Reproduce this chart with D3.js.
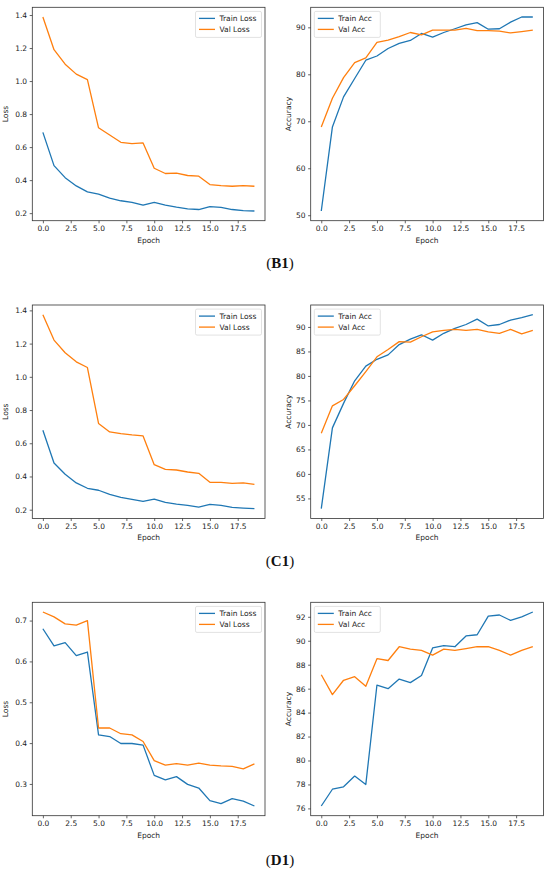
<!DOCTYPE html>
<html>
<head>
<meta charset="utf-8">
<script src="https://cdn.jsdelivr.net/npm/d3@7"></script>
<style>
  html, body { margin: 0; padding: 0; background: #fff; }
  svg { display: block; }
</style>
</head>
<body>
<script>
// Epochs 0..19
const epochs = d3.range(20);

// (B1)
const b1TrainLoss = [0.689, 0.488, 0.415, 0.365, 0.329, 0.315, 0.291, 0.275, 0.265, 0.248,
                     0.265, 0.248, 0.236, 0.226, 0.222, 0.240, 0.235, 0.222, 0.215, 0.213];
const b1ValLoss = [1.388, 1.190, 1.102, 1.042, 1.009, 0.717, 0.673, 0.629, 0.621, 0.625,
                   0.472, 0.440, 0.442, 0.428, 0.424, 0.373, 0.367, 0.363, 0.367, 0.363];
const b1TrainAcc = [50.9, 68.8, 75.2, 79.1, 83.0, 83.9, 85.5, 86.6, 87.2, 88.7,
                    87.9, 88.9, 89.7, 90.5, 91.0, 89.6, 89.7, 91.1, 92.2, 92.2];
const b1ValAcc = [68.8, 74.9, 79.3, 82.5, 83.5, 86.8, 87.3, 88.0, 88.9, 88.4,
                  89.4, 89.4, 89.4, 89.8, 89.3, 89.3, 89.2, 88.8, 89.1, 89.4];

// (C1)
const c1TrainLoss = [0.678, 0.481, 0.413, 0.361, 0.329, 0.317, 0.292, 0.274, 0.262, 0.250,
                     0.264, 0.244, 0.234, 0.226, 0.216, 0.232, 0.226, 0.214, 0.210, 0.206];
const c1ValLoss = [1.374, 1.221, 1.145, 1.090, 1.056, 0.719, 0.668, 0.658, 0.650, 0.644,
                   0.471, 0.443, 0.439, 0.427, 0.419, 0.365, 0.365, 0.359, 0.361, 0.353];
const c1TrainAcc = [52.9, 69.4, 74.4, 79.0, 82.0, 83.4, 84.3, 86.4, 87.5, 88.4,
                    87.3, 88.7, 89.7, 90.5, 91.6, 90.2, 90.5, 91.4, 91.9, 92.5];
const c1ValAcc = [68.3, 73.9, 75.2, 78.0, 80.9, 83.9, 85.4, 87.0, 86.9, 88.0,
                  89.0, 89.3, 89.5, 89.3, 89.5, 89.0, 88.7, 89.5, 88.6, 89.3];

// (D1)
const d1TrainLoss = [0.680, 0.638, 0.646, 0.614, 0.623, 0.420, 0.416, 0.399, 0.399, 0.395,
                     0.321, 0.310, 0.318, 0.299, 0.290, 0.259, 0.252, 0.264, 0.258, 0.246];
const d1ValLoss = [0.721, 0.709, 0.692, 0.689, 0.700, 0.437, 0.437, 0.423, 0.420, 0.404,
                   0.357, 0.346, 0.350, 0.346, 0.351, 0.346, 0.344, 0.343, 0.337, 0.349];
const d1TrainAcc = [76.2, 77.6, 77.8, 78.7, 78.0, 86.3, 86.0, 86.8, 86.5, 87.1,
                    89.4, 89.6, 89.5, 90.4, 90.5, 92.05, 92.15, 91.7, 92.0, 92.4];
const d1ValAcc = [87.16, 85.5, 86.7, 87.0, 86.2, 88.5, 88.35, 89.5, 89.3, 89.2,
                  88.8, 89.3, 89.2, 89.35, 89.5, 89.5, 89.2, 88.8, 89.2, 89.5];

// Tick labels
const xTicks = [0, 2.5, 5, 7.5, 10, 12.5, 15, 17.5];
const lossTicks = [0.2, 0.4, 0.6, 0.8, 1.0, 1.2, 1.4];
const b1AccTicks = [50, 60, 70, 80, 90];
const c1AccTicks = [55, 60, 65, 70, 75, 80, 85, 90];
const d1LossTicks = [0.3, 0.4, 0.5, 0.6, 0.7];
const d1AccTicks = [76, 78, 80, 82, 84, 86, 88, 90, 92];

const panelLabels = ["B1", "C1", "D1"];

const width = 550;
const height = 871;
const blue = "#1f77b4";
const orange = "#ff7f0e";
const font = "DejaVu Sans, sans-serif";
const fs = 7.5;

const svg = d3.select("body").append("svg")
    .attr("width", width)
    .attr("height", height)
    .attr("viewBox", [0, 0, width, height]);

svg.append("rect").attr("width", width).attr("height", height).attr("fill", "#fff");

const axW = 232.7;
const axH = 213.4;
const colX = [32.3, 310.7];
const rowY = [7.3, 305, 602.3];
const labelY = [267.5, 566, 865];

function drawPanel(left, top, train, val, names, yTicks, yTickFmt, yLabel, yLabelOff, legendRight) {
    const g = svg.append("g").attr("transform", `translate(${left},${top})`);

    const x = d3.scaleLinear().domain([-0.95, 19.95]).range([0, axW]);
    const [lo, hi] = d3.extent([...train, ...val]);
    const pad = (hi - lo) * 0.05;
    const y = d3.scaleLinear().domain([lo - pad, hi + pad]).range([axH, 0]);

    const line = d3.line().x((d, i) => x(epochs[i])).y(d => y(d));

    g.append("path").datum(train)
        .attr("fill", "none").attr("stroke", blue).attr("stroke-width", 1.3)
        .attr("stroke-linejoin", "round").attr("d", line);
    g.append("path").datum(val)
        .attr("fill", "none").attr("stroke", orange).attr("stroke-width", 1.3)
        .attr("stroke-linejoin", "round").attr("d", line);

    // x axis
    g.append("g")
        .attr("transform", `translate(0,${axH})`)
        .call(d3.axisBottom(x).tickValues(xTicks).tickFormat(d3.format(".1f"))
            .tickSize(2.6).tickPadding(2.3))
        .call(a => a.select(".domain").remove())
        .call(a => a.selectAll(".tick line").attr("stroke", "#222").attr("stroke-width", 0.7))
        .call(a => a.selectAll("text").attr("font-family", font).attr("font-size", fs).attr("fill", "#222"));

    // y axis
    g.append("g")
        .call(d3.axisLeft(y).tickValues(yTicks).tickFormat(yTickFmt)
            .tickSize(2.6).tickPadding(2.6))
        .call(a => a.select(".domain").remove())
        .call(a => a.selectAll(".tick line").attr("stroke", "#222").attr("stroke-width", 0.7))
        .call(a => a.selectAll("text").attr("font-family", font).attr("font-size", fs).attr("fill", "#222"));

    // frame
    g.append("rect")
        .attr("width", axW).attr("height", axH)
        .attr("fill", "none").attr("stroke", "#333").attr("stroke-width", 0.8);

    g.append("text")
        .attr("x", axW / 2).attr("y", axH + 22)
        .attr("text-anchor", "middle")
        .attr("font-family", font).attr("font-size", fs).attr("fill", "#222")
        .text("Epoch");

    g.append("text")
        .attr("transform", `translate(${yLabelOff},${axH / 2}) rotate(-90)`)
        .attr("text-anchor", "middle")
        .attr("font-family", font).attr("font-size", fs).attr("fill", "#222")
        .text(yLabel);

    // legend
    const lw = 66, lh = 26;
    const lx = legendRight ? axW - lw - 3.5 : 3.6;
    const lg = g.append("g").attr("transform", `translate(${lx},4.1)`);
    lg.append("rect")
        .attr("width", lw).attr("height", lh).attr("rx", 1.5)
        .attr("fill", "#fff").attr("fill-opacity", 0.8)
        .attr("stroke", "#d6d6d6").attr("stroke-width", 0.7);
    [blue, orange].forEach((c, i) => {
        const ly = 7 + i * 11;
        lg.append("line")
            .attr("x1", 3.5).attr("x2", 19.5).attr("y1", ly).attr("y2", ly)
            .attr("stroke", c).attr("stroke-width", 1.3);
        lg.append("text")
            .attr("x", 24).attr("y", ly).attr("dy", "0.35em")
            .attr("font-family", font).attr("font-size", fs).attr("fill", "#222")
            .text(names[i]);
    });
}

const rows = [
    [b1TrainLoss, b1ValLoss, b1TrainAcc, b1ValAcc, lossTicks, d3.format(".1f"), b1AccTicks],
    [c1TrainLoss, c1ValLoss, c1TrainAcc, c1ValAcc, lossTicks, d3.format(".1f"), c1AccTicks],
    [d1TrainLoss, d1ValLoss, d1TrainAcc, d1ValAcc, d1LossTicks, d3.format(".1f"), d1AccTicks]
];

rows.forEach((r, i) => {
    drawPanel(colX[0], rowY[i], r[0], r[1], ["Train Loss", "Val Loss"], r[4], r[5], "Loss", -24, true);
    drawPanel(colX[1], rowY[i], r[2], r[3], ["Train Acc", "Val Acc"], r[6], d3.format("d"), "Accuracy", -19.5, false);

    const lab = svg.append("text")
        .attr("x", 280).attr("y", labelY[i])
        .attr("text-anchor", "middle")
        .attr("font-family", "Liberation Serif, serif")
        .attr("font-size", 15).attr("fill", "#111");
    lab.append("tspan").text("(");
    lab.append("tspan").attr("font-weight", "bold").text(panelLabels[i]);
    lab.append("tspan").text(")");
});
</script>
</body>
</html>
